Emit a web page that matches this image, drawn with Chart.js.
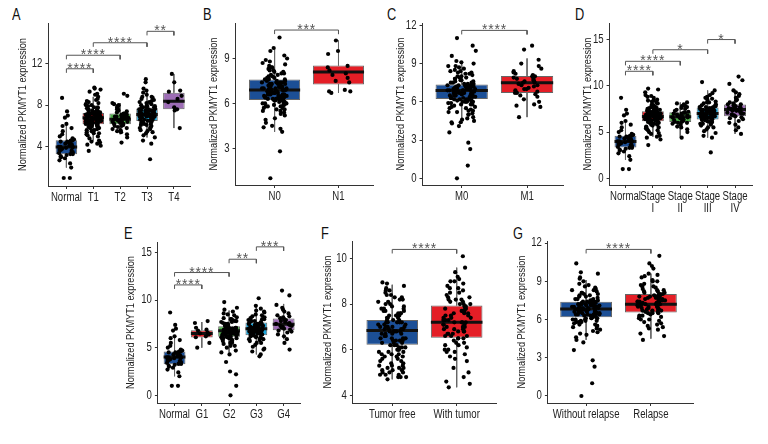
<!DOCTYPE html>
<html>
<head>
<meta charset="utf-8">
<script src="https://cdn.jsdelivr.net/npm/chart.js@4.4.1/dist/chart.umd.min.js"></script>
<style>
  body { margin: 0; background: #fff; width: 768px; height: 444px; position: relative; overflow: hidden;
         font-family: 'Liberation Sans', Arial, sans-serif; }
  canvas { position: absolute; }
  .lbl { position: absolute; font-size: 16px; line-height: 1; color: #111; transform: scaleX(0.8); transform-origin: 0 0; }
</style>
</head>
<body>
<div class="lbl" style="left:12px;top:7px">A</div>
<div class="lbl" style="left:203px;top:7px">B</div>
<div class="lbl" style="left:387px;top:7px">C</div>
<div class="lbl" style="left:575px;top:7px">D</div>
<div class="lbl" style="left:124px;top:226px">E</div>
<div class="lbl" style="left:321px;top:226px">F</div>
<div class="lbl" style="left:513px;top:226px">G</div>
<canvas id="cA"></canvas><canvas id="cB"></canvas><canvas id="cC"></canvas><canvas id="cD"></canvas>
<canvas id="cE"></canvas><canvas id="cF"></canvas><canvas id="cG"></canvas>
<script>
// ---------------- data ----------------
const yTitle = "Normalized PKMYT1 expression";

const catsA = ["Normal", "T1", "T2", "T3", "T4"];
const catsB = ["N0", "N1"];
const catsC = ["M0", "M1"];
const catsD = ["Normal", ["Stage", "I"], ["Stage", "II"], ["Stage", "III"], ["Stage", "IV"]];
const catsE = ["Normal", "G1", "G2", "G3", "G4"];
const catsF = ["Tumor free", "With tumor"];
const catsG = ["Without relapse", "Relapse"];

const ticksA = [4, 8, 12];
const ticksB = [3, 6, 9];
const ticksC = [0, 3, 6, 9, 12];
const ticksD = [0, 5, 10, 15];
const ticksE = [0, 5, 10, 15];
const ticksF = [4, 6, 8, 10];
const ticksG = [0, 3, 6, 9, 12];

// box stats per group: [lower whisker, q1, median, q3, upper whisker]
const boxesA = [[2.0, 3.29, 3.99, 4.63, 6.3], [4.6, 6.17, 6.78, 7.25, 8.8], [5.2, 6.17, 6.65, 7.19, 8.2], [4.9, 6.49, 7.1, 7.67, 9.4], [5.8, 7.6, 8.37, 9.2, 11.0]];
const boxesB = [[4.1, 6.22, 6.89, 7.6, 9.7], [6.7, 7.27, 8.09, 8.53, 10.2]];
const boxesC = [[4.3, 6.23, 6.89, 7.35, 9.0], [4.8, 6.7, 7.5, 8.03, 9.4]];
const boxesD = [[2.0, 3.34, 3.99, 4.6, 6.3], [4.5, 6.18, 6.69, 7.26, 8.8], [4.4, 6.1, 6.65, 7.15, 8.2], [4.4, 6.36, 7.0, 7.66, 9.5], [4.8, 6.72, 7.44, 7.98, 9.6]];
const boxesE = [[2.0, 3.26, 4.03, 4.6, 6.3], [5.0, 6.07, 6.49, 6.84, 7.7], [4.5, 6.14, 6.77, 7.26, 8.9], [4.3, 6.31, 7.0, 7.64, 9.5], [5.9, 6.84, 7.47, 8.06, 9.6]];
const boxesF = [[4.7, 6.22, 6.84, 7.3, 8.85], [4.35, 6.52, 7.2, 7.94, 9.6]];
const boxesG = [[4.4, 6.18, 6.83, 7.4, 9.1], [4.5, 6.55, 7.2, 8.0, 9.6]];

// significance brackets: [from group, to group, height, label]
const bracketsA = [[0, 1, 11.5, "****"], [0, 2, 12.8, "****"], [1, 3, 14.0, "****"], [3, 4, 15.1, "**"]];
const bracketsB = [[0, 1, 10.9, "***"]];
const bracketsC = [[0, 1, 11.6, "****"]];
const bracketsD = [[0, 1, 11.57, "****"], [0, 2, 12.65, "****"], [1, 3, 13.9, "*"], [3, 4, 15.0, "*"]];
const bracketsE = [[0, 1, 11.6, "****"], [0, 2, 12.9, "****"], [2, 3, 14.3, "**"], [3, 4, 15.6, "***"]];
const bracketsF = [[0, 1, 10.4, "****"]];
const bracketsG = [[0, 1, 11.5, "****"]];

// sample values
const normalPts = [1.0,1.0,2.0,2.4,2.7,2.9,3.0,3.1,3.2,3.3,3.3,3.4,3.4,3.5,3.6,3.7,3.7,3.8,3.9,3.9,4.0,4.0,4.0,4.1,4.2,4.2,4.3,4.3,4.4,4.5,4.5,4.6,4.6,4.7,4.8,5.0,5.2,5.5,5.8,6.0,6.2,6.8,7.0,7.4,8.7];
const t1Pts = [3.6,4.1,4.2,4.3,4.4,4.5,4.6,4.8,5.0,5.1,5.2,5.3,5.4,5.5,5.5,5.6,5.7,5.8,5.8,5.9,5.9,6.0,6.0,6.1,6.1,6.2,6.2,6.2,6.3,6.3,6.3,6.4,6.4,6.4,6.5,6.5,6.5,6.6,6.6,6.6,6.7,6.7,6.7,6.8,6.8,6.8,6.9,6.9,6.9,7.0,7.0,7.0,7.1,7.1,7.1,7.2,7.2,7.2,7.3,7.3,7.4,7.4,7.5,7.5,7.6,7.7,7.8,7.9,8.0,8.1,8.2,8.3,8.4,8.6,8.8,9.0,9.3,9.5,9.6,9.7,
  5.6,5.9,6.1,6.2,6.3,6.4,6.5,6.6,6.7,6.8,6.9,7.0,7.1,7.2,7.3,7.5,7.7,8.0,8.5,6.0,6.4,6.7,6.9,7.1,7.4,5.3,6.5,7.0,7.8,9.1];
const t2Pts = [4.4,4.9,5.2,5.4,5.5,5.6,5.7,5.8,5.9,6.0,6.0,6.1,6.1,6.2,6.2,6.3,6.3,6.4,6.4,6.5,6.5,6.5,6.6,6.6,6.6,6.7,6.7,6.8,6.8,6.9,6.9,7.0,7.0,7.1,7.1,7.2,7.2,7.3,7.4,7.5,7.6,7.7,7.8,7.9,8.0,8.1,8.2,8.9,9.1];
const t3Pts = [2.8,4.3,4.6,4.9,5.1,5.3,5.5,5.6,5.7,5.8,5.9,6.0,6.1,6.2,6.3,6.3,6.4,6.4,6.5,6.5,6.6,6.6,6.7,6.7,6.8,6.8,6.9,6.9,7.0,7.0,7.0,7.1,7.1,7.1,7.2,7.2,7.2,7.3,7.3,7.4,7.4,7.5,7.5,7.6,7.6,7.7,7.7,7.8,7.8,7.9,8.0,8.1,8.2,8.3,8.4,8.5,8.6,8.7,8.8,9.0,9.2,9.4,9.6,10.2,10.5,
  5.4,5.8,6.2,6.4,6.6,6.8,6.9,7.0,7.1,7.2,7.3,7.4,7.5,7.6,7.8,8.0,8.3,8.8,6.5,6.9,7.2,7.5,7.9,6.1,6.7,7.3];
const t4Pts = [5.8,7.5,7.6,7.8,8.3,8.6,8.9,9.3,9.4,10.2,11.0];
const n0Pts = [1.0,2.8,4.1,4.3,4.4,4.5,4.7,4.9,5.0,5.2,5.3,5.4,5.5,5.6,5.7,5.7,5.8,5.8,5.9,5.9,6.0,6.0,6.1,6.1,6.2,6.2,6.2,6.3,6.3,6.3,6.4,6.4,6.4,6.5,6.5,6.5,6.6,6.6,6.6,6.7,6.7,6.7,6.8,6.8,6.8,6.9,6.9,6.9,7.0,7.0,7.0,7.1,7.1,7.1,7.2,7.2,7.2,7.3,7.3,7.3,7.4,7.4,7.5,7.5,7.6,7.6,7.7,7.7,7.8,7.9,8.0,8.0,8.1,8.2,8.3,8.4,8.5,8.6,8.8,8.9,9.0,9.2,9.5,9.7,10.4,
  5.5,5.8,6.0,6.1,6.2,6.3,6.4,6.5,6.6,6.7,6.8,6.9,7.0,7.1,7.2,7.3,7.4,7.5,7.6,7.8,8.1,8.4,5.6,6.2,6.5,6.8,7.0,7.3,7.7,8.2,5.9,6.4,6.7,6.9,7.1,7.4,7.9,8.7,6.0,6.6];
const n1Pts = [6.7,6.8,6.8,6.9,7.4,7.5,7.7,7.9,8.0,8.2,8.4,8.5,9.3,9.5,10.2];
const m0Pts = [0.0,1.0,2.3,2.8,3.6,4.1,4.3,4.4,4.6,4.8,5.0,5.1,5.2,5.3,5.4,5.5,5.6,5.7,5.8,5.8,5.9,5.9,6.0,6.0,6.1,6.1,6.2,6.2,6.2,6.3,6.3,6.3,6.4,6.4,6.4,6.5,6.5,6.5,6.6,6.6,6.6,6.7,6.7,6.7,6.8,6.8,6.8,6.9,6.9,6.9,7.0,7.0,7.0,7.1,7.1,7.1,7.2,7.2,7.2,7.3,7.3,7.4,7.4,7.5,7.5,7.6,7.7,7.8,7.9,8.0,8.1,8.2,8.3,8.4,8.5,8.7,8.8,9.0,9.2,9.6,10.0,10.4,11.0,
  4.4,4.7,5.0,5.3,5.6,5.9,6.0,6.2,6.3,6.4,6.5,6.6,6.7,6.8,6.9,7.0,7.1,7.2,7.3,7.4,7.6,7.8,8.0,8.3,8.6,9.1,5.5,6.1,6.5,6.8,7.0,7.2,7.5,7.9,8.2,5.8,6.4,6.9,7.3,8.8,4.5,5.2,6.0,6.6,7.1,7.7,8.4,6.3,6.7,7.0];
const m1Pts = [4.8,5.6,5.7,5.8,6.0,6.2,6.4,6.5,6.6,6.7,6.7,6.8,6.9,7.0,7.0,7.1,7.2,7.3,7.3,7.4,7.5,7.5,7.6,7.6,7.7,7.8,7.8,7.9,8.0,8.0,8.1,8.2,8.3,8.4,8.6,8.8,9.0,9.3,10.1,10.4];
const stage1Pts = [3.6,4.2,4.4,4.5,4.6,4.8,4.9,5.0,5.2,5.3,5.4,5.5,5.6,5.7,5.8,5.9,5.9,6.0,6.0,6.1,6.1,6.2,6.2,6.3,6.3,6.3,6.4,6.4,6.4,6.5,6.5,6.5,6.6,6.6,6.6,6.7,6.7,6.7,6.8,6.8,6.8,6.9,6.9,7.0,7.0,7.0,7.1,7.1,7.2,7.2,7.2,7.3,7.3,7.4,7.4,7.5,7.6,7.7,7.8,7.9,8.0,8.1,8.2,8.3,8.4,8.5,8.7,8.8,9.0,9.3,9.6,9.7,
  5.5,5.8,6.1,6.3,6.4,6.5,6.6,6.7,6.8,6.9,7.0,7.1,7.2,7.3,7.6,7.9,8.4,6.0,6.4,6.7,6.9,7.1,7.4,5.2,6.6,7.0,7.7,8.9];
const stage2Pts = [4.4,5.0,5.3,5.5,5.6,5.8,5.9,6.0,6.0,6.1,6.1,6.2,6.3,6.3,6.4,6.5,6.5,6.6,6.6,6.7,6.7,6.8,6.8,6.9,7.0,7.0,7.1,7.1,7.2,7.3,7.4,7.5,7.6,7.7,7.8,7.9,8.0,8.1,8.2];
const stage3Pts = [2.8,4.4,4.6,4.9,5.1,5.3,5.5,5.7,5.8,5.9,6.0,6.1,6.2,6.3,6.3,6.4,6.4,6.5,6.5,6.6,6.6,6.7,6.7,6.8,6.8,6.9,6.9,7.0,7.0,7.0,7.1,7.1,7.2,7.2,7.3,7.3,7.4,7.4,7.5,7.5,7.6,7.6,7.7,7.7,7.8,7.9,8.0,8.1,8.2,8.3,8.5,8.6,8.8,9.0,9.2,9.5,10.4,
  5.5,5.9,6.2,6.4,6.6,6.8,6.9,7.0,7.1,7.2,7.3,7.4,7.5,7.7,7.9,8.2,8.7,6.5,6.9,7.2,7.6,6.1,6.7,7.3];
const stage4Pts = [4.8,5.2,5.5,5.8,6.0,6.2,6.4,6.5,6.6,6.7,6.8,6.8,6.9,7.0,7.0,7.1,7.2,7.2,7.3,7.3,7.4,7.4,7.5,7.5,7.6,7.6,7.7,7.8,7.8,7.9,8.0,8.0,8.1,8.2,8.4,8.5,8.7,8.9,9.1,9.3,9.5,10.2,10.6,11.0];
const g1Pts = [5.0,5.5,6.1,6.2,6.4,6.5,6.6,6.8,6.9,7.1,7.6,7.8];
const g2Pts = [0.0,1.0,2.2,2.5,3.5,4.3,4.5,4.7,5.0,5.2,5.4,5.5,5.6,5.7,5.8,5.9,6.0,6.0,6.1,6.1,6.2,6.2,6.3,6.3,6.4,6.4,6.5,6.5,6.6,6.6,6.7,6.7,6.8,6.8,6.9,6.9,7.0,7.0,7.1,7.1,7.2,7.2,7.3,7.4,7.5,7.6,7.7,7.8,7.9,8.0,8.1,8.2,8.4,8.6,8.8,9.0,9.2,9.8,
  5.5,5.9,6.1,6.3,6.4,6.5,6.6,6.7,6.8,6.9,7.0,7.1,7.2,7.3,7.5,7.7,8.0,8.5,6.0,6.4,6.7,6.9,7.1,7.4,5.2,6.6,7.0,7.8];
const g3Pts = [4.1,4.3,4.6,4.9,5.1,5.3,5.5,5.7,5.8,5.9,6.0,6.1,6.2,6.3,6.3,6.4,6.4,6.5,6.5,6.6,6.6,6.7,6.7,6.8,6.8,6.9,6.9,7.0,7.0,7.0,7.1,7.1,7.2,7.2,7.3,7.3,7.4,7.4,7.5,7.5,7.6,7.7,7.8,7.9,8.0,8.1,8.2,8.3,8.5,8.7,8.9,9.1,9.4,10.2,
  5.5,5.9,6.2,6.4,6.6,6.8,6.9,7.0,7.1,7.2,7.3,7.4,7.5,7.6,7.8,8.0,8.4,8.8,6.5,6.9,7.2,7.6,6.1,6.7,7.3,4.8];
const g4Pts = [4.8,5.5,5.9,6.2,6.4,6.6,6.7,6.8,6.9,7.0,7.1,7.2,7.3,7.3,7.4,7.5,7.5,7.6,7.7,7.8,7.9,8.0,8.1,8.2,8.3,8.4,8.6,8.8,9.0,9.2,9.5,10.5,11.0];
const tfPts = [4.7,4.8,4.8,4.9,4.9,5.0,5.0,5.1,5.1,5.2,5.2,5.3,5.3,5.4,5.5,5.5,5.6,5.7,5.7,5.8,5.8,5.9,5.9,6.0,6.0,6.1,6.1,6.2,6.2,6.3,6.3,6.4,6.4,6.5,6.5,6.5,6.6,6.6,6.7,6.7,6.7,6.8,6.8,6.8,6.9,6.9,7.0,7.0,7.0,7.1,7.1,7.2,7.2,7.2,7.3,7.3,7.4,7.4,7.5,7.5,7.6,7.6,7.7,7.7,7.8,7.8,7.9,8.0,8.0,8.1,8.2,8.2,8.3,8.4,8.5,8.6,8.7,8.8,8.9,8.95,
  4.8,5.0,5.2,5.4,5.6,5.8,6.0,6.1,6.3,6.4,6.6,6.7,6.8,6.9,7.0,7.1,7.2,7.3,7.5,7.7,7.9,8.1,8.3,8.6,4.9,5.3,5.9,6.2,6.5,6.8,7.0,7.2,7.4,7.8,8.4,5.1,5.7,6.4,6.9,7.6];
const wtPts = [4.35,4.5,4.6,4.8,5.0,5.2,5.5,5.7,5.8,5.9,6.0,6.1,6.2,6.3,6.4,6.5,6.5,6.6,6.6,6.7,6.7,6.8,6.8,6.9,6.9,7.0,7.0,7.1,7.1,7.2,7.2,7.3,7.3,7.4,7.4,7.5,7.5,7.6,7.6,7.7,7.7,7.8,7.8,7.9,7.9,8.0,8.0,8.1,8.2,8.2,8.3,8.4,8.5,8.6,8.7,8.8,8.9,9.0,9.1,9.2,9.4,9.6,10.1,
  5.6,6.0,6.3,6.5,6.7,6.9,7.1,7.2,7.3,7.5,7.6,7.8,8.0,8.1,8.3,8.5,6.2,6.6,7.0,7.4,7.7,8.2,8.7,9.0,5.9,6.8,7.2,7.9];
const wrPts = [0.0,1.0,2.3,2.8,3.6,4.2,4.4,4.6,4.8,5.0,5.1,5.3,5.4,5.5,5.6,5.7,5.8,5.8,5.9,5.9,6.0,6.0,6.1,6.1,6.2,6.2,6.3,6.3,6.3,6.4,6.4,6.4,6.5,6.5,6.5,6.6,6.6,6.6,6.7,6.7,6.7,6.8,6.8,6.8,6.9,6.9,6.9,7.0,7.0,7.0,7.1,7.1,7.1,7.2,7.2,7.2,7.3,7.3,7.3,7.4,7.4,7.5,7.5,7.6,7.6,7.7,7.8,7.9,8.0,8.1,8.2,8.3,8.4,8.6,8.8,9.0,9.3,9.6,9.7,10.4,
  5.2,5.5,5.8,6.0,6.1,6.2,6.3,6.4,6.5,6.6,6.7,6.8,6.9,7.0,7.1,7.2,7.3,7.4,7.6,7.8,8.0,8.3,8.7,9.2,5.6,6.1,6.5,6.9,7.2,7.5,8.1,4.9,5.9,6.4,6.7,7.0,7.3,7.9,8.5,6.6];
const rPts = [4.4,4.7,4.9,5.2,5.4,5.5,5.7,5.8,5.9,6.0,6.1,6.2,6.3,6.4,6.5,6.5,6.6,6.6,6.7,6.7,6.8,6.8,6.9,6.9,7.0,7.0,7.1,7.1,7.2,7.2,7.3,7.3,7.4,7.4,7.5,7.5,7.6,7.6,7.7,7.7,7.8,7.8,7.9,8.0,8.0,8.1,8.2,8.3,8.4,8.5,8.6,8.7,8.8,9.0,9.1,9.3,9.5,9.6,10.0,10.2,10.4,11.0,
  5.6,6.0,6.3,6.5,6.7,6.9,7.0,7.1,7.2,7.3,7.4,7.6,7.7,7.9,8.1,8.3,8.6,9.0,6.2,6.8,7.2,7.5,7.8,8.2,9.4,5.3,6.6,7.0,7.4,8.0];

// ---------------- style / layout ----------------
const BLUE = "#1c4f96", RED = "#e41e26", GREEN = "#4eae4a", CYAN = "#1ea7dd", PURPLE = "#9d6db5";
const FONT = "'Liberation Sans', Arial, sans-serif";
const CONDENSE = 0.8;          // the original uses a condensed face; squeeze text horizontally
const TITLE_SIZE = 11.5, TITLE_LH = 1.2;
const PAD_TOP = 12, X_AXIS_H = 34;

const panels = [
  { id: "cA", cats: catsA, ticks: ticksA, boxes: boxesA, brackets: bracketsA, pts: [normalPts, t1Pts, t2Pts, t3Pts, t4Pts],
    colors: [BLUE, RED, GREEN, CYAN, PURPLE], yMin: 0.23, yMax: 15.9, xMin: -0.67, xMax: 4.6,
    axisX: 48, axisTop: 22.7, axisBottom: 186, axisRight: 190, titleX: 22.5, jitter: 0.3 },
  { id: "cB", cats: catsB, ticks: ticksB, boxes: boxesB, brackets: bracketsB, pts: [n0Pts, n1Pts],
    colors: [BLUE, RED], yMin: 0.55, yMax: 11.37, xMin: -0.61, xMax: 1.54,
    axisX: 235.7, axisTop: 22.7, axisBottom: 185, axisRight: 373.3, titleX: 214, jitter: 0.2 },
  { id: "cC", cats: catsC, ticks: ticksC, boxes: boxesC, brackets: bracketsC, pts: [m0Pts, m1Pts],
    colors: [BLUE, RED], yMin: -0.52, yMax: 12.18, xMin: -0.6, xMax: 1.55,
    axisX: 422.3, axisTop: 22.7, axisBottom: 185, axisRight: 562.7, titleX: 400.7, jitter: 0.22 },
  { id: "cD", cats: catsD, ticks: ticksD, boxes: boxesD, brackets: bracketsD, pts: [normalPts, stage1Pts, stage2Pts, stage3Pts, stage4Pts],
    colors: [BLUE, RED, GREEN, CYAN, PURPLE], yMin: -0.72, yMax: 16.79, xMin: -0.58, xMax: 4.62,
    axisX: 610, axisTop: 22.7, axisBottom: 185, axisRight: 752.7, titleX: 588.3, jitter: 0.3 },
  { id: "cE", cats: catsE, ticks: ticksE, boxes: boxesE, brackets: bracketsE, pts: [normalPts, g1Pts, g2Pts, g3Pts, g4Pts],
    colors: [BLUE, RED, GREEN, CYAN, PURPLE], yMin: -0.81, yMax: 16.11, xMin: -0.61, xMax: 4.6,
    axisX: 157.7, axisTop: 241.7, axisBottom: 402.7, axisRight: 300, titleX: 130.7, jitter: 0.3 },
  { id: "cF", cats: catsF, ticks: ticksF, boxes: boxesF, brackets: bracketsF, pts: [tfPts, wtPts],
    colors: [BLUE, RED], yMin: 3.66, yMax: 10.77, xMin: -0.61, xMax: 1.61,
    axisX: 353.3, axisTop: 240.7, axisBottom: 402.7, axisRight: 496, titleX: 328.3, jitter: 0.22 },
  { id: "cG", cats: catsG, ticks: ticksG, boxes: boxesG, brackets: bracketsG, pts: [wrPts, rPts],
    colors: [BLUE, RED], yMin: -0.55, yMax: 12.16, xMin: -0.59, xMax: 1.65,
    axisX: 547.7, axisTop: 240.7, axisBottom: 402.7, axisRight: 692.7, titleX: 521.7, jitter: 0.22 },
];

// squeeze every label Chart.js writes, so the text looks like the condensed original
const condensePlugin = {
  id: "condense",
  beforeInit(chart) {
    const ctx = chart.ctx;
    const plain = ctx.fillText.bind(ctx);
    ctx.plainFillText = plain;
    ctx.fillText = function (text, x, y) {
      this.save();
      this.translate(x, y);
      this.scale(CONDENSE, 1);
      plain(text, 0, 0);
      this.restore();
    };
  },
};

// star labels over the brackets
const starPlugin = {
  id: "stars",
  afterDatasetsDraw(chart, args, opts) {
    const { ctx, scales: { x, y } } = chart;
    ctx.save();
    ctx.fillStyle = "#555";
    ctx.font = "14px " + FONT;
    ctx.letterSpacing = "0.8px";
    ctx.textAlign = "center";
    ctx.textBaseline = "alphabetic";
    (opts.brackets || []).forEach(([a, b, h, label]) => {
      const cx = (x.getPixelForValue(a) + x.getPixelForValue(b)) / 2;
      ctx.plainFillText(label, cx, y.getPixelForValue(h) + 4);
    });
    ctx.restore();
  },
};

// deterministic, irregular horizontal spread of points inside a group (-0.5 .. 0.5)
function spread(j, i) {
  let h = Math.imul((j + 1) ^ 0x9e3779b9, 0x85ebca6b) ^ Math.imul(i + 7, 0x27d4eb2d);
  h ^= h >>> 13;
  h = Math.imul(h, 0xc2b2ae35);
  h ^= h >>> 16;
  return (h >>> 0) / 4294967296 - 0.5;
}

function buildDatasets(p) {
  const ds = [];
  const drop = (p.yMax - p.yMin) * 0.025;

  // whiskers
  const whisk = [];
  p.boxes.forEach((b, i) => {
    whisk.push({ x: i, y: b[4] }, { x: i, y: b[3] }, { x: i, y: null });
    whisk.push({ x: i, y: b[1] }, { x: i, y: b[0] }, { x: i, y: null });
  });
  ds.push({ type: "line", data: whisk, borderColor: "#666", borderWidth: 1, pointRadius: 0, spanGaps: false, order: 5 });

  // boxes (floating bars)
  ds.push({
    type: "bar",
    data: p.boxes.map((b, i) => ({ x: i, y: [b[1], b[3]] })),
    backgroundColor: p.colors, borderColor: "#666", borderWidth: 1, borderSkipped: false,
    categoryPercentage: 1, barPercentage: 0.8, order: 4,
  });

  // medians
  const med = [];
  p.boxes.forEach((b, i) => {
    med.push({ x: i - 0.4, y: b[2] }, { x: i + 0.4, y: b[2] }, { x: i, y: null });
  });
  ds.push({ type: "line", data: med, borderColor: "#111", borderWidth: 3, borderCapStyle: "butt", pointRadius: 0, spanGaps: false, order: 3 });

  // jittered samples
  const pts = [];
  p.pts.forEach((vals, i) => {
    vals.forEach((v, j) => pts.push({ x: i + spread(j, i) * 2 * p.jitter, y: v }));
  });
  ds.push({ type: "scatter", data: pts, backgroundColor: "#000", borderWidth: 0, pointRadius: 2.1, order: 2 });

  // brackets
  const br = [];
  p.brackets.forEach(([a, b, h]) => {
    br.push({ x: a, y: h - drop }, { x: a, y: h }, { x: b, y: h }, { x: b, y: h - drop }, { x: a, y: null });
  });
  ds.push({ type: "line", data: br, borderColor: "#555", borderWidth: 1, pointRadius: 0, spanGaps: false, order: 1 });

  return ds;
}

function makeChart(p) {
  const canvas = document.getElementById(p.id);
  const left = p.titleX - (TITLE_SIZE * TITLE_LH) / 2;
  const top = p.axisTop - PAD_TOP;
  const yW = p.axisX - left;
  const w = p.axisRight + 6 - left;
  const h = p.axisBottom + X_AXIS_H - top;
  canvas.width = Math.round(w);
  canvas.height = Math.round(h);
  canvas.style.left = left + "px";
  canvas.style.top = top + "px";

  new Chart(canvas, {
    type: "scatter",
    data: { datasets: buildDatasets(p) },
    options: {
      responsive: false,
      animation: false,
      layout: { padding: { top: PAD_TOP, right: 6, left: 0, bottom: 0 } },
      plugins: { legend: { display: false }, tooltip: { enabled: false }, stars: { brackets: p.brackets } },
      scales: {
        x: {
          type: "linear", min: p.xMin, max: p.xMax, offset: false,
          afterBuildTicks: (s) => { s.ticks = p.cats.map((_, i) => ({ value: i })); },
          afterFit: (s) => { s.height = X_AXIS_H; },
          ticks: { callback: (v) => p.cats[v], color: "#222", padding: 3, maxRotation: 0, autoSkip: false,
                   font: { family: FONT, size: 12, lineHeight: 1.0 } },
          grid: { drawOnChartArea: false, offset: false, tickLength: 3, color: "#333" },
          border: { display: true, color: "#333", width: 1 },
        },
        y: {
          type: "linear", min: p.yMin, max: p.yMax,
          afterBuildTicks: (s) => { s.ticks = p.ticks.map((v) => ({ value: v })); },
          afterFit: (s) => { s.width = yW; },
          ticks: { color: "#222", padding: 3, font: { family: FONT, size: 12 } },
          grid: { drawOnChartArea: false, tickLength: 3, color: "#333" },
          border: { display: true, color: "#333", width: 1 },
          title: { display: true, text: yTitle, color: "#222", padding: 0,
                   font: { family: FONT, size: TITLE_SIZE, lineHeight: TITLE_LH } },
        },
      },
    },
    plugins: [condensePlugin, starPlugin],
  });
}

panels.forEach(makeChart);
</script>
</body>
</html>
